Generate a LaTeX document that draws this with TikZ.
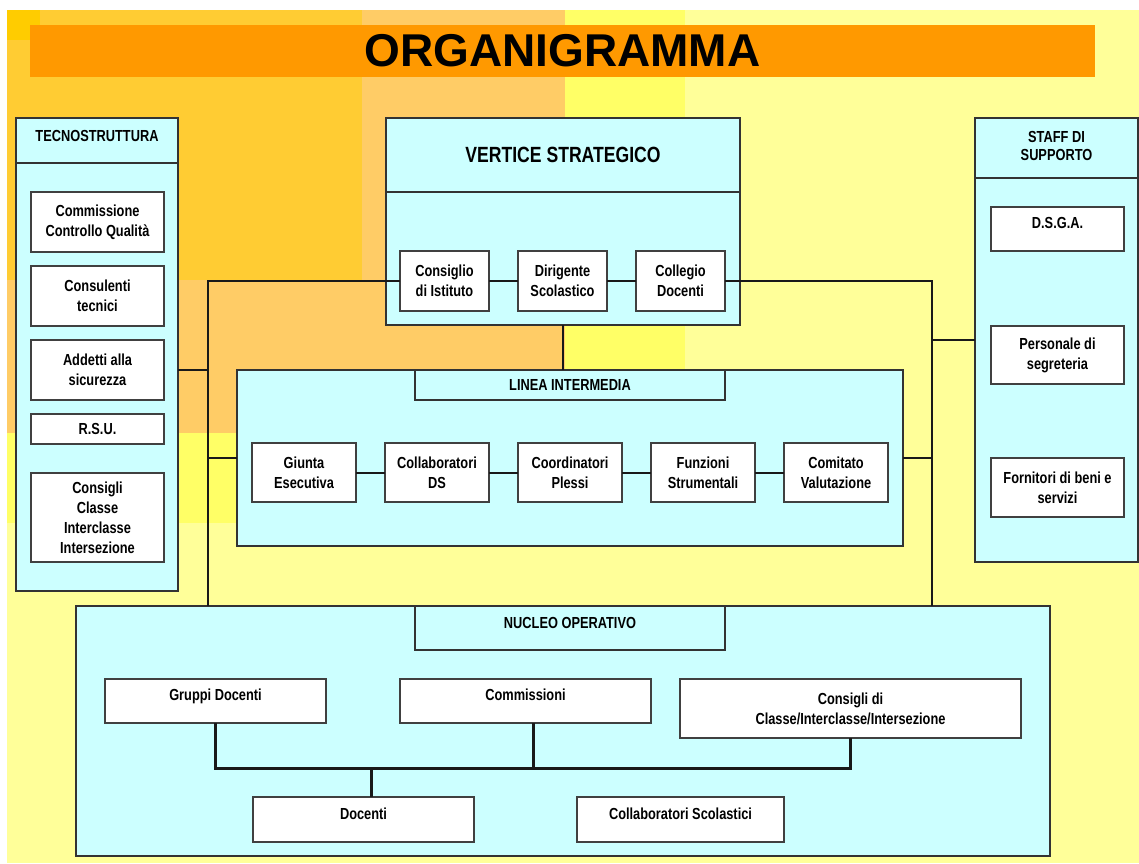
\documentclass[tikz,border=0pt]{standalone}
\usepackage{fontspec}
\setmainfont{Liberation Sans}[FakeStretch=0.8]
\newfontfamily\titlefont{Liberation Sans}
\usetikzlibrary{positioning}

\definecolor{paleyellow}{HTML}{FFFF99}
\definecolor{brightyellow}{HTML}{FFFF66}
\definecolor{lightorange}{HTML}{FFCC66}
\definecolor{golden}{HTML}{FFCC33}
\definecolor{darkgold}{HTML}{FFCC00}
\definecolor{orangebar}{HTML}{FF9900}
\definecolor{cyanbox}{HTML}{CCFFFF}

\newcommand\orgfont{\fontsize{16}{20}\selectfont\bfseries}
\newcommand\hdrfont{\fontsize{16}{18}\selectfont\bfseries}

\begin{document}
\begin{tikzpicture}[x=1pt,y=-1pt]
    \tikzstyle{panel}=[draw=black!80, line width=1.5pt, fill=cyanbox, inner sep=0pt, outer sep=0pt]
    \tikzstyle{tab}=[panel, align=center, font=\hdrfont, minimum width=310pt]
    \tikzstyle{box}=[draw=black!75, line width=1.5pt, fill=white, inner sep=0pt, outer sep=0pt, align=center, font=\orgfont]
    \tikzstyle{upper}=[text depth=12pt]
    \tikzstyle{link}=[line width=2pt, black!90]
    \tikzstyle{bus}=[line width=3pt, black!90]

    \useasboundingbox (0,0) rectangle (1139,863);
    \fill[white] (0,0) rectangle (1139,863);
    \fill[paleyellow] (7,10) rectangle (1139,863);
    \fill[brightyellow] (7,10) rectangle (685,523);
    \fill[lightorange] (7,10) rectangle (565,433);
    \fill[golden] (7,10) rectangle (362,280);
    \fill[darkgold] (7,10) rectangle (40,40);

    \node[fill=orangebar, minimum width=1065pt, minimum height=52pt, inner sep=0pt] (title) at (562.5,51)
        {\titlefont\fontsize{46}{46}\selectfont\bfseries ORGANIGRAMMA};

    \node[panel, minimum width=162pt, minimum height=473pt] (tecno) at (97,354.5) {};
    \node[panel, minimum width=354pt, minimum height=207pt] (vertice) at (563,221.5) {};
    \node[panel, minimum width=163pt, minimum height=444pt] (staff) at (1056.5,340) {};
    \node[panel, minimum width=666pt, minimum height=176pt] (linea) at (570,458) {};
    \node[panel, minimum width=974pt, minimum height=250pt] (nucleo) at (563,731) {};

    \draw[draw=black!80, line width=1.5pt] (tecno.west |- 0,163) -- (tecno.east |- 0,163);
    \draw[draw=black!80, line width=1.5pt] (vertice.west |- 0,192) -- (vertice.east |- 0,192);
    \draw[draw=black!80, line width=1.5pt] (staff.west |- 0,178) -- (staff.east |- 0,178);

    \node[font=\hdrfont] (tecnotitle) at (97,136) {TECNOSTRUTTURA};
    \node[font=\fontsize{22}{26}\selectfont\bfseries] (verticetitle) at (563,155) {VERTICE STRATEGICO};
    \node[font=\hdrfont, align=center] (stafftitle) at (1056.5,146) {STAFF DI\\SUPPORTO};

    \node[box, minimum width=133pt, minimum height=60pt] (commqual) at (97.5,222) {Commissione\\Controllo Qualità};
    \node[box, minimum width=133pt, minimum height=60pt] (consulenti) at (97.5,296) {Consulenti\\tecnici};
    \node[box, minimum width=133pt, minimum height=60pt] (addetti) at (97.5,370) {Addetti alla\\sicurezza};
    \node[box, minimum width=133pt, minimum height=30pt] (rsu) at (97.5,429) {R.S.U.};
    \node[box, minimum width=133pt, minimum height=89pt] (consigli) at (97.5,517.5) {Consigli\\Classe\\Interclasse\\Intersezione};

    \node[box, minimum width=89pt, minimum height=60pt] (cdi) at (444.5,281) {Consiglio\\di Istituto};
    \node[box, minimum width=89pt, minimum height=60pt, right=29pt of cdi] (ds) {Dirigente\\Scolastico};
    \node[box, minimum width=89pt, minimum height=60pt, right=29pt of ds] (coll) {Collegio\\Docenti};

    \node[box, upper, minimum width=133pt, minimum height=44pt] (dsga) at (1057.5,229) {D.S.G.A.};
    \node[box, minimum width=133pt, minimum height=58pt] (personale) at (1057.5,355) {Personale di\\segreteria};
    \node[box, minimum width=133pt, minimum height=59pt] (fornitori) at (1057.5,487.5) {Fornitori di beni e\\servizi};

    \node[tab, minimum height=30pt] (lineatab) at (570,385) {LINEA INTERMEDIA};
    \node[box, minimum width=104pt, minimum height=59pt] (giunta) at (304,472.5) {Giunta\\Esecutiva};
    \node[box, minimum width=104pt, minimum height=59pt, right=29pt of giunta] (collds) {Collaboratori\\DS};
    \node[box, minimum width=104pt, minimum height=59pt, right=29pt of collds] (plessi) {Coordinatori\\Plessi};
    \node[box, minimum width=104pt, minimum height=59pt, right=29pt of plessi] (funzioni) {Funzioni\\Strumentali};
    \node[box, minimum width=104pt, minimum height=59pt, right=29pt of funzioni] (comitato) {Comitato\\Valutazione};

    \node[tab, minimum height=44pt, text depth=10pt] (nucleotab) at (570,628) {NUCLEO OPERATIVO};
    \node[box, upper, minimum width=221pt, minimum height=44pt] (gruppi) at (215.5,701) {Gruppi Docenti};
    \node[box, upper, minimum width=251pt, minimum height=44pt] (commissioni) at (525.5,701) {Commissioni};
    \node[box, minimum width=341pt, minimum height=59pt] (consnuc) at (850.5,708.5) {Consigli di\\Classe/Interclasse/Intersezione};
    \node[box, upper, minimum width=221pt, minimum height=45pt] (docenti) at (363.5,819.5) {Docenti};
    \node[box, upper, minimum width=207pt, minimum height=45pt] (collsc) at (680.5,819.5) {Collaboratori Scolastici};

    \coordinate (lbus) at (208,281);
    \coordinate (rbus) at (932,281);
    \coordinate (jc) at (533,768);
    \coordinate (jd) at (371,768);

    \draw[link] (cdi.west) -- (lbus) -- (lbus |- nucleo.north);
    \draw[link] (coll.east) -- (rbus) -- (rbus |- nucleo.north);
    \draw[link] (tecno.east |- addetti) -- (lbus |- addetti);
    \draw[link] (linea.west) -- (lbus |- linea.west);
    \draw[link] (linea.east) -- (rbus |- linea.east);
    \draw[link] (staff.west) -- (rbus |- staff.west);
    \draw[link] (vertice.south) -- (vertice.south |- lineatab.north);
    \draw[link] (cdi) -- (ds) -- (coll);
    \draw[link] (giunta) -- (collds) -- (plessi) -- (funzioni) -- (comitato);

    \draw[bus] (gruppi.south) -- (gruppi.south |- jc) -- (consnuc.south |- jc) -- (consnuc.south);
    \draw[bus] (commissioni.south -| jc) -- (jc);
    \draw[bus] (jd) -- (docenti.north -| jd);
\end{tikzpicture}
\end{document}
